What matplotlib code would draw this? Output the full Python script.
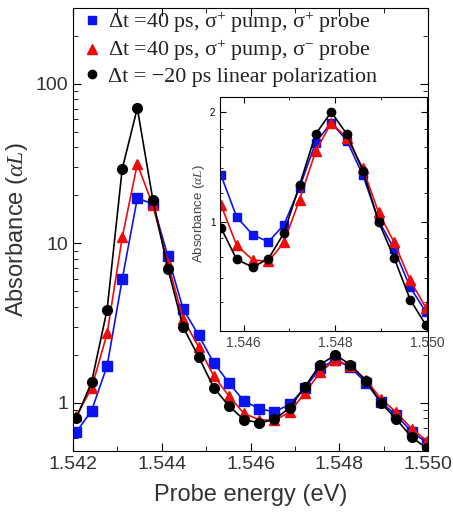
import matplotlib
matplotlib.use("Agg")
import matplotlib.pyplot as plt
import numpy as np
from matplotlib.lines import Line2D
from matplotlib.ticker import FixedLocator, NullFormatter, LogLocator, MultipleLocator

# probe energies (eV)
energy = [1.54208, 1.54242, 1.54277, 1.54311, 1.54345, 1.54380, 1.54414, 1.54448,
          1.54483, 1.54517, 1.54551, 1.54585, 1.54620, 1.54654, 1.54688, 1.54722,
          1.54757, 1.54791, 1.54825, 1.54860, 1.54894, 1.54928, 1.54963, 1.54997]

# dt = 40 ps, sigma+ pump, sigma+ probe
same_pol = [0.66, 0.895, 1.71, 5.96, 19.2, 17.7, 8.3, 3.9, 2.66, 1.79, 1.34, 1.03,
            0.92, 0.88, 0.98, 1.24, 1.65, 1.87, 1.67, 1.34, 1.01, 0.84, 0.66, 0.565]
# dt = 40 ps, sigma+ pump, sigma- probe
opp_pol = [0.83, 1.24, 2.73, 10.9, 31.5, 17.3, 7.5, 3.38, 2.25, 1.48, 1.11, 0.86,
           0.785, 0.777, 0.877, 1.15, 1.56, 1.87, 1.70, 1.40, 1.06, 0.877, 0.69, 0.58]
# dt = -20 ps, linear polarization
linear = [0.81, 1.35, 3.85, 29.3, 70.5, 18.8, 6.95, 3.0, 1.95, 1.25, 0.96, 0.787,
          0.75, 0.79, 0.93, 1.26, 1.74, 2.0, 1.74, 1.38, 1.0, 0.795, 0.61, 0.52]

labels = ["Δt =40 ps, σ$^{+}$ pump, σ$^{+}$ probe",
          "Δt =40 ps, σ$^{+}$ pump, σ$^{-}$ probe",
          "Δt = −20 ps linear polarization"]

plt.rcParams['font.family'] = ['Liberation Sans', 'DejaVu Sans']
plt.rcParams['mathtext.fontset'] = 'custom'
plt.rcParams['mathtext.rm'] = 'Liberation Serif'
plt.rcParams['mathtext.it'] = 'Liberation Serif:italic'

fig = plt.figure(figsize=(4.53, 5.19), dpi=100)
ax = fig.add_axes([0.161, 0.131, 0.784, 0.854])

styles = [("s", "#0a14f0", same_pol, 6.5),
          ("^", "#f00a0a", opp_pol, 7.5),
          ("o", "black", linear, 7)]

handles = []
for (m, c, y, ms), lab in zip(styles, labels):
    ax.plot(energy, y, "-", color=c, marker=m, ms=ms, lw=1.2)
    handles.append(Line2D([], [], ls="none", marker=m, color=c, ms=ms - 1, label=lab))

ax.set_yscale("log")
ax.set_xlim(1.542, 1.550)
ax.set_ylim(0.5, 300)
ax.xaxis.set_major_locator(FixedLocator([1.542, 1.544, 1.546, 1.548, 1.550]))
ax.xaxis.set_minor_locator(MultipleLocator(0.001))
ax.set_xticklabels(["1.542", "1.544", "1.546", "1.548", "1.550"])
ax.yaxis.set_major_locator(FixedLocator([1, 10, 100]))
ax.yaxis.set_minor_locator(LogLocator(subs=np.arange(2, 10), numticks=20))
ax.yaxis.set_minor_formatter(NullFormatter())
ax.set_yticklabels(["1", "10", "100"])
ax.tick_params(which="both", direction="in", top=True, right=True, labelsize=14,
               labelcolor="#333333")
ax.tick_params(which="major", length=6)
ax.tick_params(which="minor", length=3.5)
ax.set_xlabel("Probe energy (eV)", fontsize=17, color="#333333", labelpad=8)
ax.set_ylabel(r"Absorbance ($\mathit{\alpha L}$)", fontsize=17, color="#333333")

leg = ax.legend(handles=handles, loc="upper left", bbox_to_anchor=(0.01, 1.015),
                frameon=False, handlelength=0.6, handletextpad=0.45,
                borderaxespad=0.0, labelspacing=0.15,
                prop={"family": "Liberation Serif", "size": 15.8})
for t in leg.get_texts():
    t.set_color("#222222")

# inset
ins = fig.add_axes([0.486, 0.362, 0.457, 0.451])
for (m, c, y, ms) in styles:
    ins.plot(energy, y, "-", color=c, marker=m, ms=ms - 1, lw=1.2)
ins.set_yscale("log")
ins.set_xlim(1.54549, 1.550)
ins.set_ylim(0.5, 2.2)
ins.xaxis.set_major_locator(FixedLocator([1.546, 1.548, 1.550]))
ins.xaxis.set_minor_locator(MultipleLocator(0.001))
ins.set_xticklabels(["1.546", "1.548", "1.550"])
ins.yaxis.set_major_locator(FixedLocator([1, 2]))
ins.yaxis.set_minor_locator(FixedLocator([0.6, 0.7, 0.8, 0.9, 1.2, 1.4, 1.6, 1.8]))
ins.yaxis.set_minor_formatter(NullFormatter())
ins.set_yticklabels(["1", "2"])
ins.tick_params(which="both", direction="in", top=True, right=True)
ins.tick_params(axis="x", labelsize=10, labelcolor="#444444")
ins.tick_params(axis="y", labelsize=7)
ins.tick_params(which="major", length=4)
ins.tick_params(which="minor", length=2.5)
ins.set_ylabel(r"Absorbance ($\mathit{\alpha L}$)", fontsize=9.5, color="#444444",
               labelpad=2)

fig.savefig("out.png", dpi=100)
